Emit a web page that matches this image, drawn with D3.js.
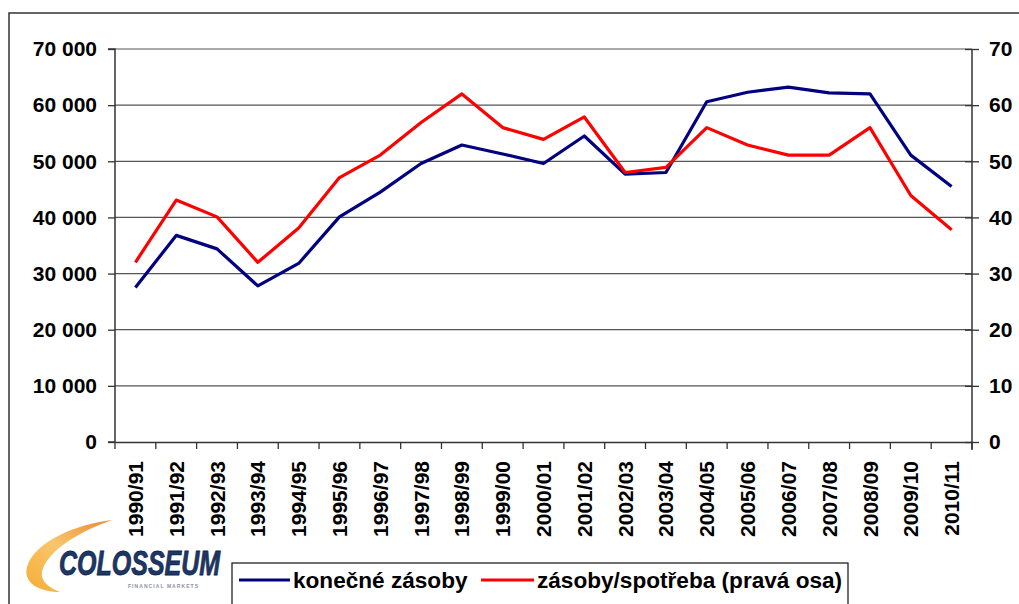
<!DOCTYPE html>
<html>
<head>
<meta charset="utf-8">
<script src="https://cdn.jsdelivr.net/npm/d3@7"></script>
<style>
    body { margin: 0; background: #fff; }
    svg { display: block; }
    text { font-family: "Liberation Sans", Arial, sans-serif; font-weight: bold; fill: #000; }
</style>
</head>
<body>
<svg id="renderer" width="1019" height="604"></svg>
<script>
// sezóny
const seasons = ['1990/91', '1991/92', '1992/93', '1993/94', '1994/95', '1995/96', '1996/97',
    '1997/98', '1998/99', '1999/00', '2000/01', '2001/02', '2002/03', '2003/04', '2004/05',
    '2005/06', '2006/07', '2007/08', '2008/09', '2009/10', '2010/11'];

// konečné zásoby (levá osa)
const endStocks = [27500, 36800, 34400, 27800, 31800, 40100, 44500, 49600, 52900, 51300, 49600,
    54500, 47700, 48000, 60600, 62300, 63200, 62200, 62000, 51100, 45500];

// zásoby/spotřeba (pravá osa)
const stockRatio = [32.0, 43.1, 40.1, 32.0, 38.1, 47.1, 51.1, 56.9, 62.0, 56.0, 53.9,
    57.9, 48.0, 48.9, 56.0, 52.9, 51.1, 51.1, 56.0, 43.9, 37.8];

const leftTicks = [0, 10000, 20000, 30000, 40000, 50000, 60000, 70000];
const rightTicks = [0, 10, 20, 30, 40, 50, 60, 70];

const legendNames = ['konečné zásoby', 'zásoby/spotřeba (pravá osa)'];

const BLUE = '#000080';
const RED = '#ff0000';
const AXIS_COLOR = '#333';

const PLOT_LEFT = 115;
const PLOT_RIGHT = 972;
const PLOT_TOP = 49;
const PLOT_BOTTOM = 442;

const root = d3.select('#renderer');

// vnější rámeček
root.append('path')
    .attr('d', 'M9,604 L9,13 L1019,13')
    .attr('fill', 'none')
    .attr('stroke', '#333')
    .attr('stroke-width', 1.5);

let x = d3.scaleBand()
    .domain(seasons)
    .range([PLOT_LEFT, PLOT_RIGHT]);

let yLeft = d3.scaleLinear()
    .domain([0, 70000])
    .range([PLOT_BOTTOM, PLOT_TOP]);

let yRight = d3.scaleLinear()
    .domain([0, 70])
    .range([PLOT_BOTTOM, PLOT_TOP]);

const fmt = d3.formatLocale({ decimal: ',', thousands: ' ', grouping: [3], currency: ['', ' Kč'] }).format(',d');

let g = root.append('g');

// mřížka
g.selectAll('.grid')
    .data(leftTicks.filter(function (d) { return d > 0; }))
    .enter().append('line')
    .attr('x1', PLOT_LEFT)
    .attr('x2', PLOT_RIGHT)
    .attr('y1', function (d) { return yLeft(d); })
    .attr('y2', function (d) { return yLeft(d); })
    .attr('stroke', '#555')
    .attr('stroke-width', 1.2);

// levá osa
let leftAxis = g.append('g')
    .attr('transform', 'translate(' + PLOT_LEFT + ',0)')
    .call(d3.axisLeft(yLeft).tickValues(leftTicks).tickFormat(fmt).tickSize(7).tickPadding(11));

// pravá osa
let rightAxis = g.append('g')
    .attr('transform', 'translate(' + PLOT_RIGHT + ',0)')
    .call(d3.axisRight(yRight).tickValues(rightTicks).tickSize(7).tickPadding(10));
rightAxis.selectAll('.tick line').attr('x1', -7);

// osa x
let bottomAxis = g.append('g')
    .attr('transform', 'translate(0,' + PLOT_BOTTOM + ')')
    .call(d3.axisBottom(x).tickSize(0).tickPadding(0));

bottomAxis.selectAll('.tick text')
    .attr('transform', 'rotate(-90)')
    .attr('x', -19)
    .attr('y', 0)
    .attr('dy', '0.36em')
    .attr('text-anchor', 'end');

// značky mezi kategoriemi
g.selectAll('.xtick')
    .data(seasons.concat(['end']))
    .enter().append('line')
    .attr('x1', function (d, i) { return PLOT_LEFT + i * x.step(); })
    .attr('x2', function (d, i) { return PLOT_LEFT + i * x.step(); })
    .attr('y1', PLOT_BOTTOM)
    .attr('y2', PLOT_BOTTOM + 7)
    .attr('stroke', AXIS_COLOR)
    .attr('stroke-width', 1.3);

[leftAxis, rightAxis, bottomAxis].forEach(function (a) {
    a.selectAll('path.domain').attr('stroke', AXIS_COLOR).attr('stroke-width', 1.5);
    a.selectAll('.tick line').attr('stroke', AXIS_COLOR).attr('stroke-width', 1.3);
    a.selectAll('text')
        .attr('font-family', '"Liberation Sans", Arial, sans-serif')
        .attr('font-weight', 'bold')
        .attr('font-size', 21)
        .attr('fill', '#000');
});
leftAxis.select('path.domain').attr('d', 'M-7,' + PLOT_BOTTOM + 'H0V' + PLOT_TOP + 'H-7');
rightAxis.select('path.domain').attr('d', 'M0,' + (PLOT_BOTTOM + 8) + 'V' + PLOT_TOP);

let line = function (scale) {
    return d3.line()
        .x(function (d, i) { return x(seasons[i]) + x.bandwidth() / 2; })
        .y(function (d) { return scale(d); })
        .curve(d3.curveLinear);
};

g.append('path')
    .attr('d', line(yLeft)(endStocks))
    .attr('fill', 'none')
    .attr('stroke', BLUE)
    .attr('stroke-width', 3.2)
    .attr('stroke-linejoin', 'round');

g.append('path')
    .attr('d', line(yRight)(stockRatio))
    .attr('fill', 'none')
    .attr('stroke', RED)
    .attr('stroke-width', 3.2)
    .attr('stroke-linejoin', 'round');

// legenda
let legend = root.append('g');
legend.append('rect')
    .attr('x', 232).attr('y', 563)
    .attr('width', 616).attr('height', 45)
    .attr('fill', '#fff')
    .attr('stroke', '#222')
    .attr('stroke-width', 1.3);

let legendItems = [
    { name: legendNames[0], color: BLUE, x1: 239, x2: 290, tx: 293 },
    { name: legendNames[1], color: RED, x1: 481, x2: 534, tx: 537 }
];
legendItems.forEach(function (d) {
    legend.append('line')
        .attr('x1', d.x1).attr('x2', d.x2)
        .attr('y1', 580).attr('y2', 580)
        .attr('stroke', d.color)
        .attr('stroke-width', 3.2);
    legend.append('text')
        .attr('x', d.tx).attr('y', 580)
        .attr('dy', '0.36em')
        .attr('font-size', 22.6)
        .text(d.name);
});

// logo
let logo = root.append('g');
let grad = root.append('defs').append('linearGradient')
    .attr('id', 'swoosh')
    .attr('x1', '0').attr('y1', '1').attr('x2', '1').attr('y2', '0');
grad.append('stop').attr('offset', '0').attr('stop-color', '#f5a623');
grad.append('stop').attr('offset', '0.5').attr('stop-color', '#f8c060');
grad.append('stop').attr('offset', '1').attr('stop-color', '#e9801c');

logo.append('path')
    .attr('d', 'M112,520 C76,524 34,542 27,567 C23,582 38,592 60,592 C45,586 38,578 44,566 C54,546 84,530 112,520 Z')
    .attr('fill', 'url(#swoosh)')
    .attr('opacity', 0.92);

logo.append('text')
    .attr('transform', 'translate(59,575) scale(0.715,1)')
    .attr('font-size', 35)
    .attr('font-style', 'italic')
    .style('fill', '#1d3766')
    .attr('stroke', '#0f2448')
    .attr('stroke-width', 0.8)
    .text('COLOSSEUM');

logo.append('text')
    .attr('x', 128).attr('y', 588)
    .attr('font-size', 5)
    .attr('font-weight', 'normal')
    .attr('textLength', 70)
    .style('fill', '#8a93a5')
    .text('FINANCIAL MARKETS');
</script>
</body>
</html>
